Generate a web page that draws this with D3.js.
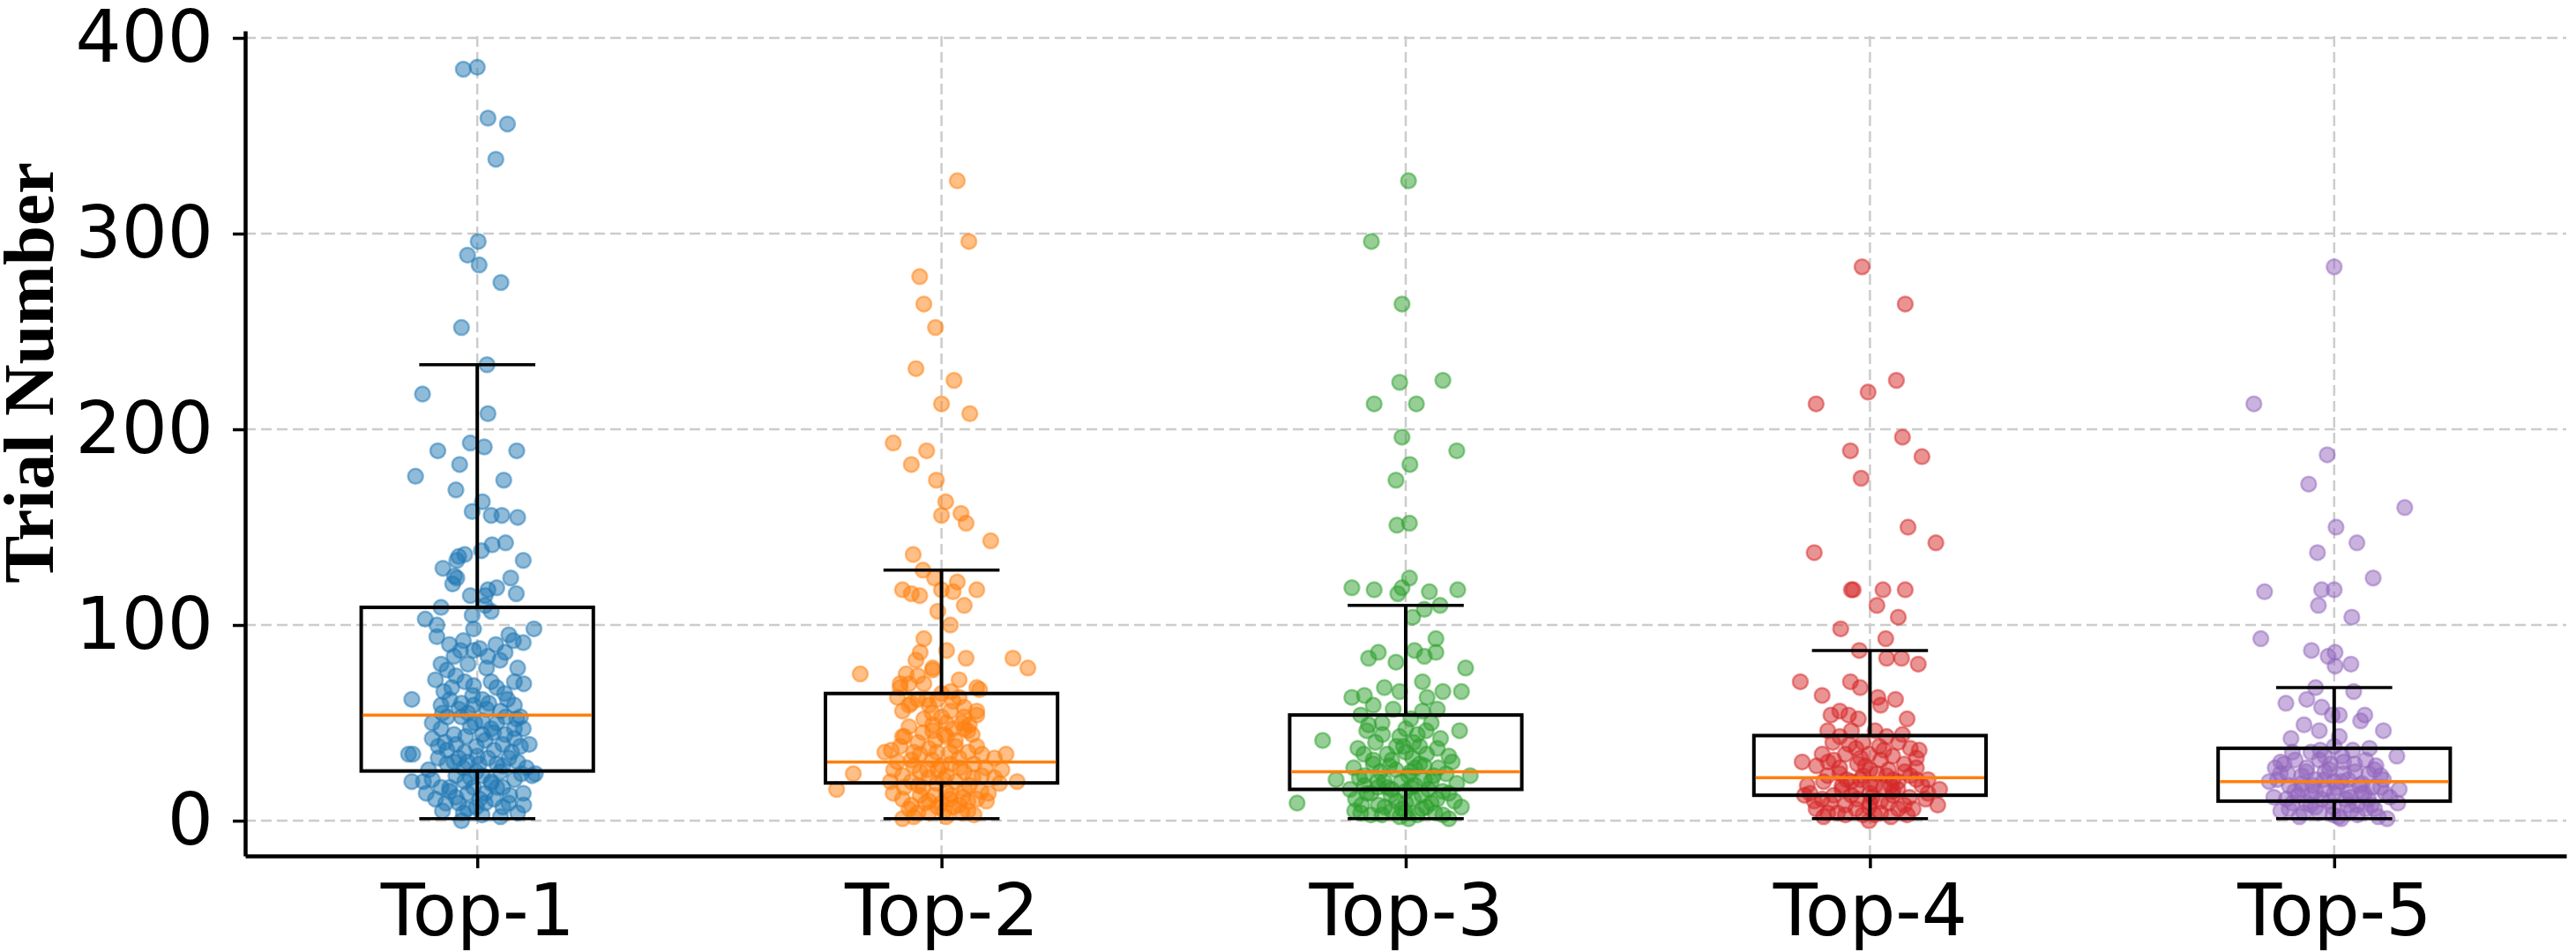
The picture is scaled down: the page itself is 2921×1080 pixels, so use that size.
<!DOCTYPE html>
<html>
<head>
<meta charset="utf-8">
<script src="https://cdn.jsdelivr.net/npm/d3@7"></script>
<style>
  html, body { margin: 0; padding: 0; background: #ffffff; }
  svg { display: block; }
</style>
</head>
<body>
<script>
// ---------------- DATA ----------------
const categories = ["Top-1", "Top-2", "Top-3", "Top-4", "Top-5"];
const seriesColors = ["#1f77b4", "#ff7f0e", "#2ca02c", "#d62728", "#9467bd"];
const yTickValues = [0, 100, 200, 300, 400];

// box-plot statistics
const whiskerLow  = [1, 1, 1, 1, 1];
const quartile1   = [25.4, 19.3, 16, 13, 10];
const medians     = [54, 30, 25, 22, 20];
const quartile3   = [109, 65, 54, 43.5, 37];
const whiskerHigh = [233, 128, 110, 87, 68];

// jittered points: [horizontal jitter (category units), trial number]
const top1Points = [
  [-0.030,384],[0.000,385],[0.023,359],[0.065,356],[0.040,338],[0.002,296],[-0.021,289],[0.004,284],
  [0.051,275],[-0.034,252],[0.021,233],[-0.118,218],[0.023,208],[-0.015,193],[0.015,191],[-0.085,189],
  [0.085,189],[-0.038,182],[-0.133,176],[0.057,174],[-0.046,169],[0.011,163],[-0.011,158],[0.030,156],
  [0.053,156],[0.087,155],[0.009,138],[0.032,141],[0.061,142],[0.099,133],[-0.074,129],[-0.040,135],
  [-0.027,136],[-0.044,124],[-0.053,121],[0.023,118],[0.042,119],[0.072,124],[0.084,116],[-0.015,115],
  [0.017,115],[-0.078,109],[-0.112,103],[-0.087,100],[-0.087,94],[-0.011,105],[0.030,107],[0.068,95],
  [0.122,98],[0.078,92],[0.099,91],[-0.008,98],[-0.044,133],[-0.049,125],[0.017,110],
  [-0.036,87],[-0.008,87],[0.023,84],[0.049,82],[0.087,78],[-0.078,80],[-0.065,77],[-0.046,74],
  [-0.027,71],[-0.008,69],[0.030,71],[0.042,68],[0.059,65],[0.080,71],[-0.072,66],[-0.059,62],
  [-0.034,60],[-0.008,59],[0.011,62],[-0.141,62],[-0.078,59],[-0.097,50],[-0.078,47],[-0.065,53],
  [0.080,59],[0.093,53],[0.080,47],[0.099,47],[-0.034,53],[-0.015,48],[0.011,51],[0.030,47],
  [0.042,50],[0.061,53],[-0.097,42],[-0.084,38],[-0.065,36],[-0.046,39],[-0.027,35],[-0.002,38],
  [0.017,41],[0.036,36],[0.055,39],[0.074,35],[0.093,38],[0.112,39],[-0.148,34],[-0.139,34],
  [-0.084,32],[-0.065,29],[-0.040,32],[-0.021,30],[0.004,29],[0.023,32],[0.042,29],[0.068,32],
  [0.087,30],[0.106,27],[-0.141,20],[-0.116,20],[-0.097,21],[-0.078,17],[-0.068,9],[-0.046,23],
  [-0.027,20],[-0.008,17],[0.011,23],[0.030,20],[0.055,17],[0.080,21],[0.099,14],[0.118,23],
  [0.125,24],[-0.040,9],[-0.021,6],[-0.002,7],[0.017,9],[0.036,11],[0.055,7],[0.068,9],
  [0.087,4],[-0.046,12],[-0.034,0],[-0.059,17],[-0.021,14],[0.017,14],[0.042,17],
  [-0.002,25],[0.011,44],[-0.050,44],[0.060,44],[-0.020,55],[0.020,57],[-0.030,27],[0.050,25],
  [-0.060,90],[-0.030,92],[0.005,88],[0.040,90],[-0.050,84],[0.060,86],[-0.020,80],[0.020,78],[-0.090,72],[0.100,70],
  [-0.055,68],[0.065,62],[-0.010,64],[0.025,60],[-0.040,57],[0.050,56],[-0.075,55],[0.085,52],[-0.005,50],[0.035,45],
  [-0.025,43],[-0.070,40],[0.080,42],[0.000,33],[-0.050,30],[0.055,28],[-0.105,26],[0.095,24],[-0.015,22],[0.030,19],
  [-0.060,15],[0.070,13],[-0.090,11],[0.005,11],[-0.030,4],[0.050,2],[-0.075,5],[0.010,3],[0.100,8],[-0.110,14]
];
const top2Points = [
  [0.034,327],[0.059,296],[-0.047,278],[-0.038,264],[-0.013,252],[-0.055,231],[0.027,225],[0.000,213],
  [0.061,208],[-0.104,193],[-0.032,189],[-0.065,182],[-0.011,174],[0.009,163],[0.000,156],[0.042,157],
  [0.053,152],[0.106,143],[-0.061,136],[-0.040,128],[-0.015,124],[-0.084,118],[-0.065,116],[-0.047,115],
  [0.000,118],[0.025,117],[0.034,122],[0.076,118],[0.049,110],[-0.008,107],[0.019,100],[-0.038,93],
  [-0.046,86],[-0.055,82],[0.011,87],[0.053,83],[0.154,83],[0.186,78],[-0.175,75],[-0.019,78],
  [-0.076,75],[-0.089,70],[0.038,72],[0.082,67],[-0.095,63],[-0.065,60],[-0.032,62],[0.000,65],
  [0.038,63],[0.076,54],[0.057,46],[-0.084,43],[-0.108,36],[-0.051,40],[-0.019,46],[0.011,43],
  [-0.190,24],[-0.226,16],
  [-0.122,35],[-0.089,38],[-0.080,43],[-0.065,31],[-0.046,34],[-0.027,37],[-0.013,41],[0.006,44],
  [0.025,47],[0.044,50],[0.066,44],[0.076,38],[0.019,35],[0.038,32],[0.057,35],[0.087,34],
  [0.114,32],[0.139,34],[-0.103,26],[-0.084,23],[-0.065,20],[-0.046,25],[-0.027,22],[-0.008,26],
  [0.011,23],[0.030,20],[0.049,25],[0.068,22],[0.087,23],[0.114,22],[0.125,19],[0.163,20],
  [-0.104,14],[-0.084,11],[-0.065,8],[-0.046,13],[-0.027,10],[-0.008,7],[0.019,11],[0.038,8],
  [0.057,10],[0.076,11],[0.097,10],[0.101,14],[-0.084,1],[-0.027,4],[0.006,5],[0.057,5],
  [-0.070,6],[-0.051,4],[0.025,7],[0.044,4],[-0.084,56],[-0.070,59],[-0.051,62],[-0.027,59],
  [-0.008,62],[-0.038,52],[-0.019,49],[0.000,53],[0.019,56],[0.049,53],[0.025,61],[0.049,58],
  [0.076,56],[0.049,47],[0.030,41],[0.076,68],[-0.051,74],[-0.038,70],[-0.019,77],[-0.089,68],
  [-0.070,70],[0.000,28],[-0.020,31],[0.020,29],[-0.040,17],[0.010,15],[0.050,16],[-0.010,19],
  [-0.070,48],[0.010,50],[0.060,49],[-0.040,45],[0.030,38],[-0.010,35],[0.070,29],[-0.060,28],[0.095,27],[-0.095,30],
  [-0.030,26],[0.040,27],[0.005,21],[-0.050,18],[0.060,18],[-0.015,13],[0.020,13],[0.085,15],[-0.080,17],[-0.035,9],
  [0.000,9],[0.045,12],[-0.060,2],[0.070,3],[0.010,2],[-0.110,20],[0.130,26],[-0.020,55],[0.020,66],[-0.060,35]
];
const top3Points = [
  [0.006,327],[-0.074,296],[-0.008,264],[-0.013,224],[0.080,225],[-0.068,213],[0.023,213],[-0.008,196],
  [0.110,189],[0.009,182],[-0.021,174],[-0.019,151],[0.008,152],[0.008,124],[-0.116,119],[-0.068,118],
  [-0.017,116],[0.051,117],[0.112,118],[-0.008,119],[0.074,110],[0.015,104],[0.040,108],[0.065,93],
  [-0.080,83],[-0.059,86],[-0.021,81],[0.019,87],[0.040,84],[0.065,86],[0.129,78],[-0.116,63],
  [-0.089,64],[-0.046,68],[-0.013,66],[0.036,71],[0.046,63],[0.080,66],[0.120,66],[-0.179,41],
  [-0.150,21],[-0.234,9],[0.116,46],[0.139,23],[0.120,7],[0.093,1],
  [-0.097,54],[-0.070,59],[-0.051,50],[-0.027,57],[0.011,52],[0.036,56],[0.068,57],
  [-0.103,37],[-0.084,46],[-0.065,40],[-0.040,34],[-0.013,43],[0.017,40],[0.044,46],[0.068,37],[0.093,33],
  [-0.112,27],[-0.089,23],[-0.070,29],[-0.046,20],[-0.021,26],[0.006,23],[0.030,29],[0.055,20],[0.087,24],
  [-0.108,11],[-0.084,14],[-0.059,8],[-0.032,13],[-0.008,6],[0.017,11],[0.044,7],[0.068,11],[0.093,14],
  [-0.097,4],[-0.051,3],[-0.013,2],[0.025,3],[0.063,4],[0.006,1],
  [-0.089,18],[-0.040,17],[0.011,17],[0.049,16],
  [-0.030,31],[0.000,35],[0.030,38],[-0.060,17],[0.040,21],[-0.020,10],[0.020,27],[0.000,15],
  [-0.080,49],[0.000,47],[0.055,50],[-0.050,44],[0.025,44],[0.075,42],[-0.090,34],[-0.005,38],[0.045,34],[0.100,30],
  [-0.070,31],[-0.035,28],[0.015,32],[0.070,27],[-0.100,22],[-0.055,25],[-0.010,20],[0.020,18],[0.060,23],[0.110,19],
  [-0.120,16],[-0.075,14],[-0.030,16],[0.035,13],[0.080,15],[-0.095,8],[-0.045,7],[0.000,9],[0.055,9],[0.105,10],
  [-0.075,3],[-0.030,5],[0.035,6],[0.080,3],[-0.110,5],[0.000,4],[-0.060,20],[0.040,28],[-0.020,38],[0.010,25]
];
const top4Points = [
  [-0.017,283],[0.076,264],[0.057,225],[-0.004,219],[-0.116,213],[0.070,196],[0.112,186],[-0.042,189],
  [-0.019,175],[0.082,150],[0.142,142],[-0.120,137],[-0.036,118],[-0.040,118],[0.028,118],[0.076,118],
  [0.015,110],[0.061,104],[-0.063,98],[0.034,93],[-0.023,87],[0.036,83],[0.068,83],[0.104,80],
  [-0.150,71],[-0.103,64],[-0.042,71],[-0.021,68],[0.017,63],[0.055,62],[-0.084,54],[-0.065,56],
  [-0.046,54],[-0.025,52],[0.023,59],[0.080,52],[-0.146,30],[0.106,36],[-0.141,13],[0.146,8],
  [0.150,16],[0.125,21],
  [-0.091,46],[-0.065,43],[-0.040,46],[-0.015,40],[0.011,46],[0.036,43],[0.061,40],[0.087,37],
  [-0.103,34],[-0.078,31],[-0.053,34],[-0.027,29],[-0.002,34],[0.023,31],[0.049,33],[0.074,29],
  [-0.091,23],[-0.065,24],[-0.040,20],[-0.015,23],[0.011,18],[0.036,23],[0.061,20],[0.087,23],[0.112,18],
  [-0.129,14],[-0.103,11],[-0.078,13],[-0.053,8],[-0.027,11],[-0.002,7],[0.023,10],[0.049,13],[0.074,8],
  [-0.116,6],[-0.091,4],[-0.053,3],[-0.015,3],[0.023,4],[0.061,6],[0.093,6],[-0.002,0],
  [-0.030,16],[0.000,14],[0.030,17],[-0.060,18],[0.050,15],[0.000,26],[-0.020,21],
  [-0.080,40],[-0.030,37],[0.020,38],[0.070,44],[0.100,32],[-0.115,28],[-0.065,27],[-0.010,28],[0.040,26],[0.075,25],
  [-0.100,20],[-0.050,21],[0.000,19],[0.050,21],[0.100,21],[-0.120,10],[-0.085,9],[-0.040,13],[0.005,12],[0.040,9],
  [0.085,12],[0.120,11],[-0.070,4],[-0.030,6],[0.010,3],[0.045,2],[0.080,3],[-0.100,2],[0.000,9],[-0.020,32],
  [0.060,16],[-0.060,16],[0.030,36],[-0.045,39],[0.100,27],[0.015,24],[-0.090,30],[0.125,14],[-0.135,18],[0.045,18]
];
const top5Points = [
  [0.000,283],[-0.173,213],[-0.015,187],[-0.055,172],[0.152,160],[0.004,150],[0.049,142],[-0.036,137],
  [0.084,124],[-0.150,117],[-0.027,118],[0.000,118],[-0.034,110],[0.038,104],[-0.158,93],[-0.049,87],
  [-0.013,84],[0.002,86],[0.036,80],[0.002,79],[-0.040,68],[0.042,66],[-0.104,60],[-0.059,62],
  [-0.027,58],[-0.004,54],[0.011,54],[0.057,51],[0.066,54],[0.106,46],[0.135,33],[0.137,9],
  [0.114,1],[0.015,1],[-0.093,42],[-0.065,49],[-0.032,46],[0.011,43],[0.076,37],[0.087,26],[0.106,21],
  [-0.108,29],[-0.084,31],[-0.059,27],[-0.032,31],[-0.008,29],[0.017,33],[0.044,29],[0.068,31],
  [-0.122,21],[-0.097,18],[-0.070,23],[-0.046,18],[-0.021,21],[0.006,17],[0.030,21],[0.055,18],[0.082,17],
  [-0.103,11],[-0.078,13],[-0.051,8],[-0.027,11],[-0.002,7],[0.025,11],[0.049,8],[0.074,11],
  [-0.097,6],[-0.065,4],[-0.032,4],[-0.002,3],[0.036,5],[0.068,6],[0.087,6],
  [-0.116,24],[-0.127,27],
  [-0.040,15],[0.000,14],[0.030,15],[-0.070,16],[0.060,14],[-0.020,25],[0.020,24],[0.000,38],[-0.050,35],
  [-0.090,35],[-0.020,33],[0.040,36],[0.090,28],[-0.115,30],[-0.060,25],[-0.010,26],[0.045,25],[0.100,23],[-0.085,15],
  [-0.040,21],[0.015,20],[0.060,19],[0.110,14],[-0.130,12],[-0.090,9],[-0.050,13],[-0.010,10],[0.035,12],[0.080,8],
  [0.120,12],[-0.115,5],[-0.075,2],[-0.040,7],[0.010,2],[0.050,3],[0.095,2],[-0.020,16],[0.030,8],[-0.060,9],
  [0.075,24],[-0.030,36],[0.020,30],[-0.100,24],[0.000,20],[0.065,14],[-0.070,19],[0.100,17],[-0.140,20],[0.140,16]
];
const allPoints = [top1Points, top2Points, top3Points, top4Points, top5Points];

// ---------------- CHART ----------------
const W = 2921, H = 1080;
const svg = d3.select("body").append("svg").attr("width", W).attr("height", H);

const x = d3.scaleLinear().domain([0.5, 5.5]).range([278, 2910]);
const y = d3.scaleLinear().domain([-18, 403.6]).range([971, 35]);
const catPos = categories.map((c, i) => i + 1);

const gridColor = "#cccccc";
// horizontal grid
svg.append("g").selectAll("line").data(yTickValues).join("line")
  .attr("x1", x.range()[0]).attr("x2", x.range()[1])
  .attr("y1", d => y(d)).attr("y2", d => y(d))
  .attr("stroke", gridColor).attr("stroke-width", 2.5).attr("stroke-dasharray", "12,6");
// vertical grid
svg.append("g").selectAll("line").data(catPos).join("line")
  .attr("x1", d => x(d)).attr("x2", d => x(d))
  .attr("y1", y.range()[0]).attr("y2", y.range()[1])
  .attr("stroke", gridColor).attr("stroke-width", 2.5).attr("stroke-dasharray", "12,6");

// points
allPoints.forEach((pts, i) => {
  svg.append("g").selectAll("circle").data(pts).join("circle")
    .attr("cx", d => x(i + 1 + d[0]))
    .attr("cy", d => y(d[1]))
    .attr("r", 8.5)
    .attr("fill", seriesColors[i]).attr("fill-opacity", 0.5)
    .attr("stroke", seriesColors[i]).attr("stroke-opacity", 0.5).attr("stroke-width", 2.5);
});

// box plots
const boxW = 0.5, capW = 0.25;
const boxes = svg.append("g");
categories.forEach((c, i) => {
  const p = i + 1;
  const g = boxes.append("g");
  g.append("line").attr("x1", x(p)).attr("x2", x(p)).attr("y1", y(quartile3[i])).attr("y2", y(whiskerHigh[i]))
    .attr("stroke", "#000").attr("stroke-width", 4);
  g.append("line").attr("x1", x(p)).attr("x2", x(p)).attr("y1", y(quartile1[i])).attr("y2", y(whiskerLow[i]))
    .attr("stroke", "#000").attr("stroke-width", 4);
  [whiskerHigh[i], whiskerLow[i]].forEach(v => {
    g.append("line").attr("x1", x(p - capW / 2)).attr("x2", x(p + capW / 2)).attr("y1", y(v)).attr("y2", y(v))
      .attr("stroke", "#000").attr("stroke-width", 3.5);
  });
  g.append("rect").attr("x", x(p - boxW / 2)).attr("width", x(p + boxW / 2) - x(p - boxW / 2))
    .attr("y", y(quartile3[i])).attr("height", y(quartile1[i]) - y(quartile3[i]))
    .attr("fill", "none").attr("stroke", "#000").attr("stroke-width", 4);
  g.append("line").attr("x1", x(p - boxW / 2) + 2).attr("x2", x(p + boxW / 2) - 2)
    .attr("y1", y(medians[i])).attr("y2", y(medians[i]))
    .attr("stroke", "#ff7f0e").attr("stroke-width", 3.5);
});

// axes
const fontFam = "'DejaVu Sans', 'Liberation Sans', sans-serif";

const yAxis = d3.axisLeft(y).tickValues(yTickValues).tickSize(14).tickSizeOuter(0).tickPadding(22);
const gy = svg.append("g").attr("transform", `translate(${x.range()[0]},0)`).call(yAxis);
gy.select(".domain").attr("stroke", "#000").attr("stroke-width", 4.5);
gy.selectAll(".tick line").attr("stroke", "#000").attr("stroke-width", 3.5);
gy.selectAll(".tick text")
  .style("font-family", fontFam).style("font-size", "82px").attr("fill", "#000");

const xAxis = d3.axisBottom(x).tickValues(catPos).tickFormat(d => categories[d - 1])
  .tickSize(14).tickSizeOuter(0).tickPadding(18);
const gx = svg.append("g").attr("transform", `translate(0,${y.range()[0]})`).call(xAxis);
gx.select(".domain").attr("stroke", "#000").attr("stroke-width", 4.5);
gx.selectAll(".tick line").attr("stroke", "#000").attr("stroke-width", 3.5);
gx.selectAll(".tick text")
  .style("font-family", fontFam).style("font-size", "82px").attr("fill", "#000");

// y label
svg.append("text")
  .attr("transform", "translate(60,423) rotate(-90)")
  .attr("text-anchor", "middle")
  .style("font-family", "'Liberation Serif', 'Times New Roman', serif")
  .style("font-weight", "bold")
  .style("font-size", "81px")
  .attr("fill", "#000")
  .text("Trial Number");
</script>
</body>
</html>
